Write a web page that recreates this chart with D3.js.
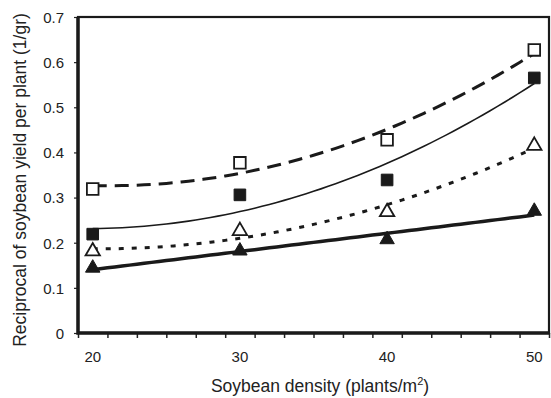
<!DOCTYPE html>
<html>
<head>
<meta charset="utf-8">
<script src="https://cdn.jsdelivr.net/npm/d3@7"></script>
<style>
  body { margin: 0; background: #fff; }
  text { font-family: "Liberation Sans", Arial, sans-serif; fill: #222; }
</style>
</head>
<body>
<svg id="chart" width="551" height="398"></svg>
<script>
// soybean densities (plants/m2)
var densities = [20, 30, 40, 50];
var xTickLabels = [20, 30, 40, 50];
var yTickLabels = [0, 0.1, 0.2, 0.3, 0.4, 0.5, 0.6, 0.7];

// reciprocal yield values
var openSquare = [0.319, 0.377, 0.428, 0.627];
var filledSquare = [0.219, 0.306, 0.339, 0.565];
var openTriangle = [0.181, 0.226, 0.268, 0.415];
var filledTriangle = [0.144, 0.182, 0.207, 0.27];

var series = [
  { values: openSquare, shape: "square", filled: false, degree: 2, width: 3, dash: "14,8" },
  { values: filledSquare, shape: "square", filled: true, degree: 2, width: 1.6, dash: null },
  { values: openTriangle, shape: "triangle", filled: false, degree: 2, width: 3, dash: "5,8" },
  { values: filledTriangle, shape: "triangle", filled: true, degree: 1, width: 3.5, dash: null }
];

// least squares polynomial fit (normal equations)
function polyFit(xs, ys, deg) {
  var n = deg + 1, A = [], b = [];
  for (var i = 0; i < n; i++) {
    A.push([]);
    b.push(d3.sum(xs, function(x, k) { return Math.pow(x, i) * ys[k]; }));
    for (var j = 0; j < n; j++) {
      A[i].push(d3.sum(xs, function(x) { return Math.pow(x, i + j); }));
    }
  }
  // gauss elimination
  for (var c = 0; c < n; c++) {
    for (var r = c + 1; r < n; r++) {
      var f = A[r][c] / A[c][c];
      for (var k = c; k < n; k++) A[r][k] -= f * A[c][k];
      b[r] -= f * b[c];
    }
  }
  var coef = new Array(n);
  for (var r = n - 1; r >= 0; r--) {
    var s = b[r];
    for (var k = r + 1; k < n; k++) s -= A[r][k] * coef[k];
    coef[r] = s / A[r][r];
  }
  return function(x) {
    return d3.sum(coef, function(cf, p) { return cf * Math.pow(x, p); });
  };
}

var svg = d3.select("#chart"),
    margin = {top: 17, right: 2, bottom: 65, left: 78},
    width = 551 - margin.left - margin.right,
    height = 398 - margin.top - margin.bottom;

var x = d3.scaleLinear().domain([19, 51]).range([0, width]);
var y = d3.scaleLinear().domain([0, 0.7]).range([height, 0]);

var g = svg.append("g")
  .attr("transform", "translate(" + margin.left + "," + margin.top + ")");

// y axis ticks + labels
g.append("g")
  .call(d3.axisLeft(y).tickValues(yTickLabels).tickSize(4).tickPadding(10)
    .tickFormat(function(d) { return d === 0 ? "0" : d3.format(".1f")(d); }))
  .call(function(a) {
    a.select(".domain").remove();
    a.selectAll("line").attr("stroke", "#222").attr("stroke-width", 1.2);
    a.selectAll("text").style("font-size", "15px").attr("dy", "0.36em");
  });

// x axis minor ticks every 2 units
g.append("g")
  .attr("transform", "translate(0," + height + ")")
  .call(d3.axisBottom(x).tickValues(d3.range(19, 52, 2)).tickSize(5).tickFormat(""))
  .call(function(a) {
    a.select(".domain").remove();
    a.selectAll("line").attr("stroke", "#222").attr("stroke-width", 1.5);
  });

// x labels
g.append("g").selectAll("text")
  .data(xTickLabels)
  .enter().append("text")
    .attr("x", function(d) { return x(d); })
    .attr("y", height + 29)
    .attr("text-anchor", "middle")
    .style("font-size", "15px")
    .text(function(d) { return d; });

// frame
g.append("rect")
  .attr("x", 0).attr("y", 0)
  .attr("width", width).attr("height", height)
  .attr("fill", "none").attr("stroke", "#1a1a1a").attr("stroke-width", 2.2);
g.append("path")
  .attr("d", "M0,0V" + height + "H" + width)
  .attr("fill", "none").attr("stroke", "#1a1a1a").attr("stroke-width", 3.5);

// fitted curves
var line = d3.line()
  .x(function(d) { return x(d[0]); })
  .y(function(d) { return y(d[1]); });

series.forEach(function(s) {
  var fit = polyFit(densities, s.values, s.degree);
  var pts = d3.range(20, 50.01, 0.5).map(function(v) { return [v, fit(v)]; });
  g.append("path")
    .datum(pts)
    .attr("d", line)
    .attr("fill", "none")
    .attr("stroke", "#1a1a1a")
    .attr("stroke-width", s.width)
    .attr("stroke-dasharray", s.dash);
});

// markers
var sqSym = d3.symbol().type(d3.symbolSquare).size(135);
var triSym = d3.symbol().type(d3.symbolTriangle).size(90);

series.forEach(function(s) {
  g.selectAll(null)
    .data(s.values)
    .enter().append("path")
      .attr("d", s.shape === "square" ? sqSym : triSym)
      .attr("transform", function(d, i) {
        return "translate(" + x(densities[i]) + "," + y(d) + ")";
      })
      .attr("fill", s.filled ? "#1a1a1a" : "#fff")
      .attr("stroke", "#1a1a1a")
      .attr("stroke-width", s.filled ? 1 : 1.8);
});

// axis titles
svg.append("text")
  .attr("x", 320)
  .attr("y", 392)
  .attr("text-anchor", "middle")
  .style("font-size", "17.5px")
  .text("Soybean density (plants/m")
  .append("tspan")
    .attr("dy", -7)
    .style("font-size", "11px")
    .text("2")
  .select(function() { return this.parentNode; })
  .append("tspan")
    .attr("dy", 7)
    .text(")");

svg.append("text")
  .attr("transform", "translate(26,180) rotate(-90)")
  .attr("text-anchor", "middle")
  .style("font-size", "17.5px")
  .text("Reciprocal of soybean yield per plant (1/gr)");
</script>
</body>
</html>
